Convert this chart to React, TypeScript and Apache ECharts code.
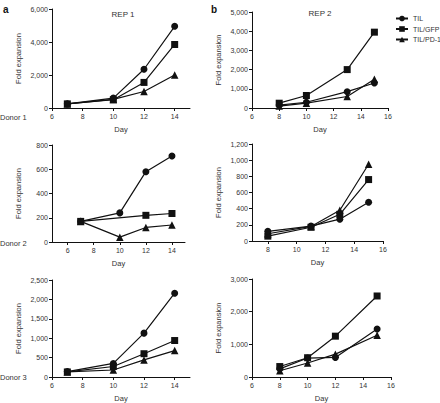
import React, { useEffect, useRef } from "react";
import * as echarts from "echarts";

// ---- data ----
const seriesNames = ["TIL", "TIL/GFP", "TIL/PD-1"];

// Donor 1, REP 1
const d1r1Days = [7, 10, 12, 14];
const d1r1TIL = [250, 600, 2350, 4950];
const d1r1GFP = [250, 500, 1550, 3850];
const d1r1PD1 = [250, 520, 1000, 2000];

// Donor 1, REP 2
const d1r2Days = [8, 10, 13, 15];
const d1r2TIL = [150, 300, 850, 1300];
const d1r2GFP = [250, 650, 2000, 3950];
const d1r2PD1 = [100, 250, 600, 1500];

// Donor 2, REP 1 (TIL/GFP has no day 10 value)
const d2r1Days = [7, 10, 12, 14];
const d2r1TIL = [170, 240, 580, 710];
const d2r1GFP = [170, null, 220, 235];
const d2r1PD1 = [170, 40, 120, 140];

// Donor 2, REP 2
const d2r2Days = [8, 11, 13, 15];
const d2r2TIL = [120, 185, 270, 480];
const d2r2GFP = [60, 170, 330, 760];
const d2r2PD1 = [90, 180, 380, 950];

// Donor 3, REP 1
const d3r1Days = [7, 10, 12, 14];
const d3r1TIL = [140, 350, 1130, 2160];
const d3r1GFP = [130, 270, 600, 940];
const d3r1PD1 = [130, 180, 440, 680];

// Donor 3, REP 2
const d3r2Days = [8, 10, 12, 15];
const d3r2TIL = [250, 580, 600, 1470];
const d3r2GFP = [320, 590, 1250, 2480];
const d3r2PD1 = [190, 430, 700, 1280];

const xTicksLeft = [6, 8, 10, 12, 14];
const xTicksRight = [6, 8, 10, 12, 14, 16];
const xTicksMidRight = [8, 10, 12, 14, 16];

const panelTitles = ["REP 1", "REP 2"];
const donorLabels = ["Donor 1", "Donor 2", "Donor 3"];
const panelLetters = ["a", "b"];

const FONT = "Liberation Sans, Arial, sans-serif";
const INK = "#111";
const TEXT = "#333";

type Panel = {
  days: number[];
  values: (number | null)[][];
  xMin: number;
  xMax: number;
  xTicks: number[];
  yMax: number;
  yInterval: number;
  grid: { left: number; top: number; width: number; height: number };
};

const panels: Panel[] = [
  { days: d1r1Days, values: [d1r1TIL, d1r1GFP, d1r1PD1], xMin: 6, xMax: 15, xTicks: xTicksLeft, yMax: 6000, yInterval: 2000, grid: { left: 52, top: 9, width: 138, height: 99 } },
  { days: d1r2Days, values: [d1r2TIL, d1r2GFP, d1r2PD1], xMin: 6, xMax: 16, xTicks: xTicksRight, yMax: 5000, yInterval: 1000, grid: { left: 252, top: 12, width: 136, height: 96 } },
  { days: d2r1Days, values: [d2r1TIL, d2r1GFP, d2r1PD1], xMin: 4.8, xMax: 15, xTicks: xTicksLeft, yMax: 800, yInterval: 200, grid: { left: 52, top: 145, width: 133, height: 97 } },
  { days: d2r2Days, values: [d2r2TIL, d2r2GFP, d2r2PD1], xMin: 6.9, xMax: 16, xTicks: xTicksMidRight, yMax: 1200, yInterval: 200, grid: { left: 252, top: 144, width: 131, height: 97 } },
  { days: d3r1Days, values: [d3r1TIL, d3r1GFP, d3r1PD1], xMin: 6, xMax: 15, xTicks: xTicksLeft, yMax: 2500, yInterval: 500, grid: { left: 52, top: 280, width: 138, height: 98 } },
  { days: d3r2Days, values: [d3r2TIL, d3r2GFP, d3r2PD1], xMin: 6, xMax: 16, xTicks: xTicksRight, yMax: 3000, yInterval: 1000, grid: { left: 252, top: 279, width: 139, height: 100 } },
];

const symbols = ["circle", "rect", "triangle"];
const symbolSizes = [7, 7, 7.5];

export default function App() {
  const ref = useRef<HTMLDivElement>(null);

  useEffect(() => {
    if (!ref.current) return;
    const chart = echarts.init(ref.current, undefined, { renderer: "svg" });

    const axisText = { color: TEXT, fontSize: 7, fontFamily: FONT };

    const grids = panels.map((p) => ({ ...p.grid, containLabel: false }));
    const xAxes = panels.map((p, i) => ({
      type: "value",
      gridIndex: i,
      min: p.xMin,
      max: p.xMax,
      name: "Day",
      nameLocation: "middle",
      nameGap: 17,
      nameTextStyle: { ...axisText, fontSize: 7.5 },
      axisLine: { show: true, onZero: false, lineStyle: { color: INK, width: 1 } },
      axisTick: { show: true, length: 3, lineStyle: { color: INK }, customValues: p.xTicks },
      axisLabel: { ...axisText, margin: 5, customValues: p.xTicks },
      splitLine: { show: false },
    }));
    const yAxes = panels.map((p, i) => ({
      type: "value",
      gridIndex: i,
      min: 0,
      max: p.yMax,
      interval: p.yInterval,
      name: "Fold expansion",
      nameLocation: "middle",
      nameGap: 30,
      nameTextStyle: { ...axisText, fontSize: 7.5 },
      axisLine: { show: true, lineStyle: { color: INK, width: 1 } },
      axisTick: { show: true, length: 3, lineStyle: { color: INK } },
      axisLabel: {
        ...axisText,
        margin: 4,
        formatter: (v: number) => v.toLocaleString("en-US"),
      },
      splitLine: { show: false },
    }));

    const series: any[] = [];
    panels.forEach((p, i) => {
      p.values.forEach((vals, s) => {
        series.push({
          type: "line",
          name: seriesNames[s],
          xAxisIndex: i,
          yAxisIndex: i,
          data: p.days.map((d, k) => [d, vals[k]]).filter((pt) => pt[1] !== null),
          symbol: symbols[s],
          symbolSize: symbolSizes[s],
          showAllSymbol: true,
          lineStyle: { color: INK, width: 1.2 },
          itemStyle: { color: INK },
          z: 3 - s,
        });
      });
    });

    const textStyle = (t: string, x: number, y: number, size: number, weight = "normal", align = "left") => ({
      type: "text",
      x,
      y,
      style: {
        text: t,
        fontSize: size,
        fontWeight: weight,
        fontFamily: FONT,
        fill: weight === "bold" ? INK : TEXT,
        align,
        verticalAlign: "middle",
      },
    });

    chart.setOption({
      animation: false,
      backgroundColor: "#fff",
      grid: grids,
      xAxis: xAxes,
      yAxis: yAxes,
      series,
      legend: {
        data: seriesNames,
        orient: "vertical",
        left: 395,
        top: 15,
        padding: 0,
        itemWidth: 12,
        itemHeight: 7,
        itemGap: 3.5,
        selectedMode: false,
        textStyle: { ...axisText, color: TEXT, fontSize: 7 },
      },
      graphic: [
        textStyle(panelLetters[0], 3, 9, 10, "bold"),
        textStyle(panelLetters[1], 211, 9, 10, "bold"),
        textStyle(panelTitles[0], 123, 14, 8, "normal", "center"),
        textStyle(panelTitles[1], 320, 13, 8, "normal", "center"),
        textStyle(donorLabels[0], 0, 117, 7.5),
        textStyle(donorLabels[1], 0, 243, 7.5),
        textStyle(donorLabels[2], 0, 377, 7.5),
      ],
    });

    return () => chart.dispose();
  }, []);

  return (
    <div
      ref={ref}
      style={{ position: "fixed", left: 0, top: 0, width: 440, height: 403, background: "#fff" }}
    />
  );
}
